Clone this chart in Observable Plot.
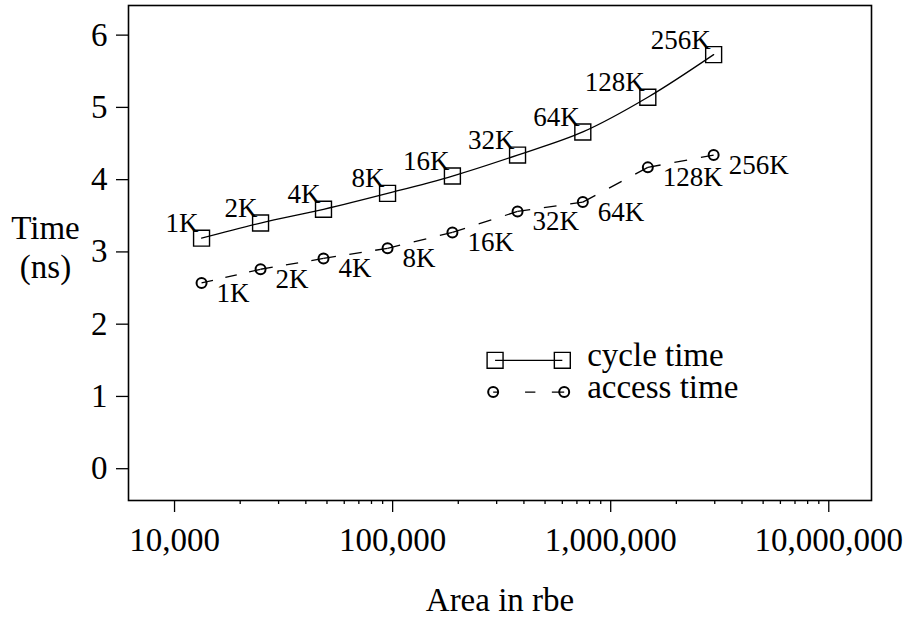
<!DOCTYPE html>
<html><head><meta charset="utf-8">
<script src="https://cdn.jsdelivr.net/npm/d3@7"></script>
<script src="https://cdn.jsdelivr.net/npm/@observablehq/plot@0.6"></script>
<style>
html,body{margin:0;padding:0;background:#fff;}
#chart svg{display:block;}
</style></head><body><div id="chart"></div>
<script>
// ---- data ----
const sizes = ["1K","2K","4K","8K","16K","32K","64K","128K","256K"];
const area = [13300, 24800, 48200, 94800, 188000, 374000, 745000, 1480000, 2965000];
const cycleTime = [3.19, 3.40, 3.59, 3.81, 4.05, 4.34, 4.66, 5.14, 5.73];
const accessTime = [2.57, 2.76, 2.91, 3.05, 3.27, 3.56, 3.69, 4.17, 4.34];
const xTicks = [1e4, 1e5, 1e6, 1e7];
const yTicks = [0, 1, 2, 3, 4, 5, 6];
const legendLabels = ["cycle time", "access time"];

// ---- derived tables ----
const rows = sizes.map((s, i) => ({size: s, area: area[i], cycle: cycleTime[i], access: accessTime[i]}));
const accessSegs = rows.slice(1).map((d, i) => ({x1: rows[i].area, y1: rows[i].access, x2: d.area, y2: d.access}));
const minorTicks = [1e4, 1e5, 1e6].flatMap(p => [2,3,4,5,6,7,8,9].map(k => k * p));

// legend layout (in data units)
const legX1 = 2.95e5, legX2 = 6.0e5, legTextX = 7.8e5;
const legY = [1.50, 1.06];
const legend = legendLabels.map((label, i) => ({label, y: legY[i]}));

const DASH_DATA = "12,13,12,13,12,13";
const DASH_LEG = "5,26,10,16,12,20";
const FONT = "'Liberation Serif', 'Times New Roman', Times, serif";

const plot = Plot.plot({
  width: 908,
  height: 618,
  marginLeft: 128,
  marginRight: 37,
  marginTop: 5,
  marginBottom: 118,
  style: {fontFamily: FONT, color: "black", background: "white", overflow: "visible"},
  x: {type: "log", domain: [6150, 1.57e7]},
  y: {domain: [-0.44, 6.41]},
  marks: [
    Plot.frame({stroke: "black", strokeWidth: 1.6}),
    Plot.axisX(xTicks, {tickSize: 12, tickPadding: 15, tickFormat: d3.format(","), fontSize: 33, label: null, strokeWidth: 1.3}),
    Plot.axisX(minorTicks, {tickSize: 4, tickFormat: () => "", label: null, strokeWidth: 1.3}),
    Plot.axisY(yTicks, {tickSize: 12, tickPadding: 9, tickFormat: d3.format("d"), fontSize: 33, label: null, strokeWidth: 1.3}),
    // cycle time
    Plot.line(rows, {x: "area", y: "cycle", curve: "catmull-rom", stroke: "black", strokeWidth: 1.3}),
    Plot.dot(rows, {x: "area", y: "cycle", symbol: "square", r: 9, stroke: "black", strokeWidth: 1.4, fill: "none"}),
    Plot.text(rows, {x: "area", y: "cycle", text: "size", textAnchor: "end", lineAnchor: "bottom", dx: -3, dy: -6, fontSize: 27}),
    // access time
    Plot.link(accessSegs, {x1: "x1", y1: "y1", x2: "x2", y2: "y2", stroke: "black", strokeWidth: 1.3, strokeDasharray: DASH_DATA}),
    Plot.dot(rows, {x: "area", y: "access", r: 5, stroke: "black", strokeWidth: 2, fill: "none"}),
    Plot.text(rows, {x: "area", y: "access", text: "size", textAnchor: "start", lineAnchor: "bottom", dx: 15, dy: 19, fontSize: 27}),
    // axis titles
    Plot.text(["Time\n(ns)"], {frameAnchor: "left", text: d => d, textAnchor: "middle", lineAnchor: "middle", lineHeight: 1.18, dx: -83, dy: -7, fontSize: 33}),
    Plot.text(["Area in rbe"], {frameAnchor: "bottom", text: d => d, textAnchor: "middle", lineAnchor: "bottom", dy: 110, fontSize: 33}),
    // legend
    Plot.link(legend.slice(0, 1), {x1: () => legX1, x2: () => legX2, y1: "y", y2: "y", stroke: "black", strokeWidth: 1.3}),
    Plot.dot(legend.slice(0, 1).flatMap(d => [{x: legX1, y: d.y}, {x: legX2, y: d.y}]), {x: "x", y: "y", symbol: "square", r: 9, stroke: "black", strokeWidth: 1.4, fill: "none"}),
    Plot.link(legend.slice(1, 2), {x1: () => legX1 * 0.98, x2: () => legX2 * 1.02, y1: "y", y2: "y", stroke: "black", strokeWidth: 1.3, strokeDasharray: DASH_LEG}),
    Plot.dot(legend.slice(1, 2).flatMap(d => [{x: legX1 * 0.98, y: d.y}, {x: legX2 * 1.02, y: d.y}]), {x: "x", y: "y", r: 5, stroke: "black", strokeWidth: 2, fill: "none"}),
    Plot.text(legend, {x: () => legTextX, y: "y", text: "label", textAnchor: "start", lineAnchor: "bottom", dy: 6, fontSize: 33})
  ]
});

// per-segment dash pattern (restart dashes on each segment like the original)
const lens = {[DASH_DATA]: 62, [DASH_LEG]: 69};
plot.querySelectorAll("g[stroke-dasharray]").forEach(g => {
  const L = lens[g.getAttribute("stroke-dasharray")];
  if (L) g.querySelectorAll("path, line").forEach(p => p.setAttribute("pathLength", L));
});

document.getElementById("chart").appendChild(plot);
</script></body></html>
